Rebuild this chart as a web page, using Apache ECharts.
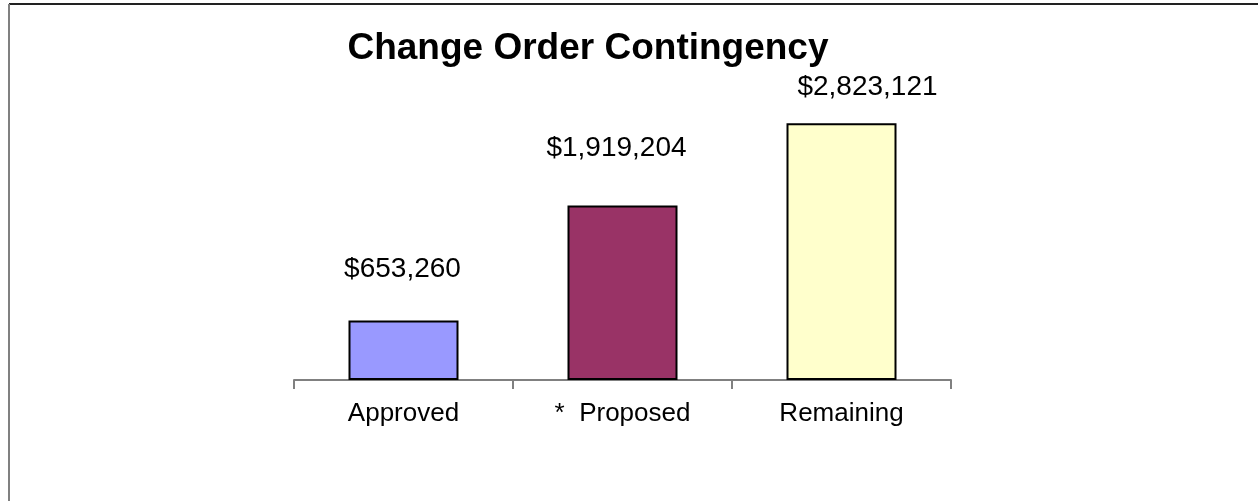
<!DOCTYPE html>
<html>
<head>
<meta charset="utf-8">
<script src="https://cdn.jsdelivr.net/npm/echarts@6/dist/echarts.min.js"></script>
<style>
html,body{margin:0;padding:0;background:#fff;}
#chart{width:1258px;height:501px;}
</style>
</head>
<body>
<div id="chart"></div>
<script>
var titleText = 'Change Order Contingency';
var categories = ['Approved', '*  Proposed', 'Remaining'];
var values = [653260, 1919204, 2823121];
var barColors = ['#9999FF', '#993366', '#FFFFCC'];
var labelDistances = [37, 43, 22];
var labelOffsetsX = [-1, -6, 26];

function money(v) {
  return '$' + v.toString().replace(/\B(?=(\d{3})+(?!\d))/g, ',');
}

var chart = echarts.init(document.getElementById('chart'));
var font = 'Liberation Sans, Arial, sans-serif';

chart.setOption({
  animation: false,
  backgroundColor: '#ffffff',
  title: {
    text: titleText,
    left: 583,
    top: 25,
    textAlign: 'center',
    textStyle: { fontFamily: font, fontSize: 37, fontWeight: 'bold', color: '#000' }
  },
  graphic: [
    { type: 'line', shape: { x1: 9, y1: 4, x2: 1258, y2: 4 }, style: { stroke: '#222', lineWidth: 2 } },
    { type: 'line', shape: { x1: 9, y1: 4, x2: 9, y2: 501 }, style: { stroke: '#808080', lineWidth: 2 } }
  ],
  grid: { left: 294, right: 307, top: 109, bottom: 121, containLabel: false },
  xAxis: {
    type: 'category',
    data: categories,
    axisLine: { lineStyle: { color: '#808080', width: 2 } },
    axisTick: { show: true, length: 9, lineStyle: { color: '#808080', width: 2 } },
    axisLabel: { margin: 21, fontFamily: font, fontSize: 26, color: '#000' }
  },
  yAxis: {
    type: 'value',
    min: 0,
    max: 2980000,
    show: false,
    splitLine: { show: false }
  },
  series: [{
    type: 'bar',
    barWidth: 110,
    data: values.map(function (v, i) {
      return {
        value: v,
        itemStyle: { color: barColors[i], borderColor: '#000', borderWidth: 2 },
        label: { distance: labelDistances[i], offset: [labelOffsetsX[i], 0] }
      };
    }),
    label: {
      show: true,
      position: 'top',
      fontFamily: font,
      fontSize: 28,
      color: '#000',
      formatter: function (p) { return money(p.value); }
    }
  }]
});
</script>
</body>
</html>
